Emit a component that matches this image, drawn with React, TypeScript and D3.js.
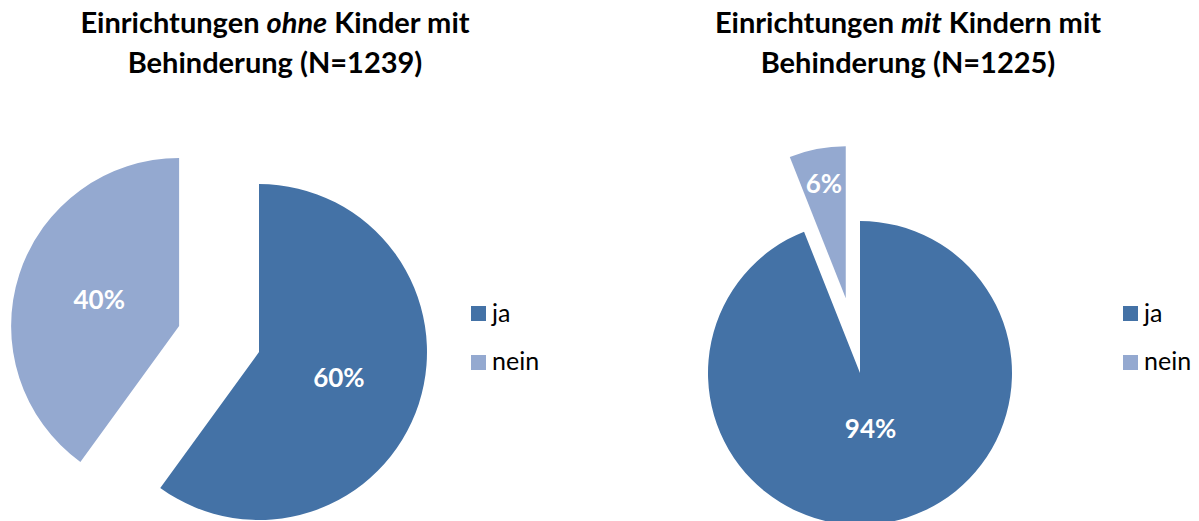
import React from "react";
import * as d3 from "d3";

const categories = ["ja", "nein"];
const leftValues = [60, 40];
const rightValues = [94, 6];
const leftTitle = ["Einrichtungen ", "ohne", " Kinder mit", "Behinderung (N=1239)"];
const rightTitle = ["Einrichtungen ", "mit", " Kindern mit", "Behinderung (N=1225)"];

const colors = ["#4472A6", "#94A9D0"];
const FONT = "Lato, 'Open Sans', sans-serif";

type PieCfg = {
  values: number[];
  title: string[];
  cx: number;
  cy: number;
  r: number;
  titleX: number;
  legendX: number;
  labelFactors: number[];
};

const pies: PieCfg[] = [
  { values: leftValues, title: leftTitle, cx: 259, cy: 352, r: 168, titleX: 275, legendX: 471, labelFactors: [0.5, 0.5] },
  { values: rightValues, title: rightTitle, cx: 860, cy: 373, r: 152, titleX: 908, legendX: 1123, labelFactors: [0.37, 0.77] },
];

function Pie({ cfg }: { cfg: PieCfg }) {
  const arcs = d3.pie<number>().sort(null).value((d) => d)(cfg.values);
  const arcGen = d3.arc<d3.PieArcDatum<number>>().innerRadius(0).outerRadius(cfg.r);
  const explode = 0.5 * cfg.r;
  return (
    <g>
      <text x={cfg.titleX} y={33} textAnchor="middle" fontFamily={FONT} fontWeight="bold" fontSize={29} fill="#000">
        <tspan>{cfg.title[0]}</tspan>
        <tspan fontStyle="italic">{cfg.title[1]}</tspan>
        <tspan>{cfg.title[2]}</tspan>
      </text>
      <text x={cfg.titleX} y={73} textAnchor="middle" fontFamily={FONT} fontWeight="bold" fontSize={29} fill="#000">
        {cfg.title[3]}
      </text>
      {arcs.map((a, i) => {
        const mid = (a.startAngle + a.endAngle) / 2;
        const off = i === 1 ? explode : 0;
        const ox = cfg.cx + Math.sin(mid) * off;
        const oy = cfg.cy - Math.cos(mid) * off;
        const lr = cfg.labelFactors[i] * cfg.r;
        const lx = ox + Math.sin(mid) * lr;
        const ly = oy - Math.cos(mid) * lr;
        return (
          <g key={i}>
            <path d={arcGen(a) || ""} transform={`translate(${ox},${oy})`} fill={colors[i]} />
            <text x={lx} y={ly} dy="0.36em" textAnchor="middle" fontFamily={FONT} fontWeight="bold" fontSize={26} fill="#fff">
              {`${cfg.values[i]}%`}
            </text>
          </g>
        );
      })}
      {categories.map((c, i) => (
        <g key={c}>
          <rect x={cfg.legendX} y={306 + i * 49} width={15} height={15} fill={colors[i]} />
          <text x={cfg.legendX + 21} y={322 + i * 48} fontFamily={FONT} fontSize={25} fill="#000">
            {c}
          </text>
        </g>
      ))}
    </g>
  );
}

export default function App() {
  return (
    <svg width={1199} height={521} style={{ position: "absolute", left: 0, top: 0, background: "#fff" }}>
      <rect width={1199} height={521} fill="#fff" />
      {pies.map((p, i) => (
        <Pie key={i} cfg={p} />
      ))}
    </svg>
  );
}
